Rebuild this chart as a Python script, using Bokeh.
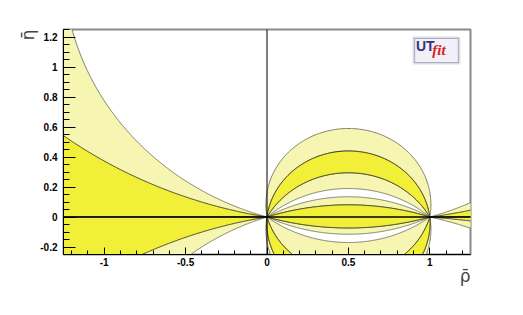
import numpy as np
from bokeh.plotting import figure
from bokeh.models import FixedTicker, Span, Label, BoxAnnotation, Title
from bokeh.embed import file_html
from bokeh.resources import INLINE

# ---- data -----------------------------------------------------------------
# Central region: bands bounded by circle arcs through (0,0) and (1,0);
# each arc is given by its eta value at rho = 0.5 (negative = below the axis)
band_lo = [0.44, 0.295, 0.19, 0.081, -0.073, -0.115, -0.38, -0.54, -0.59]
band_hi = [0.59, 0.44, 0.295, 0.135, 0.081, -0.073, -0.17, -0.38, -0.54]
band_level = ["light", "dark", "light", "light", "dark", "light", "light", "dark", "light"]

# Outer wedges (rho < 0 and rho > 1): region between the eta = 0 axis and the
# circle of constant alpha (degrees) through (0,0) and (1,0)
wedge_side = ["left", "left", "left", "left", "right", "right", "right", "right"]
wedge_alpha = [16.6, 9.9, 170.0, 161.6, 16.6, 8.2, 175.2, 166.8]
wedge_level = ["light", "dark", "dark", "light", "light", "dark", "dark", "light"]

x_ticks = [-1, -0.5, 0, 0.5, 1]
x_labels = ["-1", "-0.5", "0", "0.5", "1"]
y_ticks = [-0.2, 0, 0.2, 0.4, 0.6, 0.8, 1, 1.2]
y_labels = ["-0.2", "0", "0.2", "0.4", "0.6", "0.8", "1", "1.2"]
x_minor = [round(-1.2 + 0.1 * i, 2) for i in range(25)]
y_minor = [round(-0.25 + 0.05 * i, 2) for i in range(31)]

FILL = {"light": "#f6f5b2", "dark": "#f2ef38"}
EDGE = {"light": "#6b6b55", "dark": "#2b2b20"}


def arc(h, n=240):
    """Arc of the circle through (0,0), (1,0) and (0.5, h)."""
    s = 1.0 if h > 0 else -1.0
    h = abs(h)
    c = (h * h - 0.25) / (2 * h)
    r = h - c
    t0 = np.arctan2(-c, 0.5)
    t1 = np.arctan2(-c, -0.5)
    if t1 < t0:
        t1 += 2 * np.pi
    t = np.linspace(t0, t1, n)
    return 0.5 + r * np.cos(t), s * (c + r * np.sin(t))


def wedge(alpha_deg, side, n=300):
    c = 0.5 / np.tan(np.radians(alpha_deg))
    s = 1.0 if c > 0 else -1.0
    c = abs(c)
    r = np.hypot(0.5, c)
    xs = np.linspace(0, max(-1.6, 0.5 - r), n)
    ys = c - np.sqrt(np.maximum(r * r - (xs - 0.5) ** 2, 0))
    x = np.concatenate([xs, [xs[-1], 0]])
    y = np.concatenate([ys, [0, 0]])
    if side == "right":
        x = 1 - x
    return list(x), list(s * y)


p = figure(width=507, height=299, x_range=(-1.25, 1.25), y_range=(-0.25, 1.25),
           output_backend="svg", toolbar_location=None,
           min_border_left=63, min_border_right=37, min_border_top=29, min_border_bottom=45)
p.background_fill_color = "white"
p.border_fill_color = "white"
p.xgrid.visible = False
p.ygrid.visible = False
p.outline_line_color = "#8a8a8a"
p.outline_line_width = 2

for level in ["light", "dark"]:
    xs, ys = [], []
    for lo, hi, lv in zip(band_lo, band_hi, band_level):
        if lv != level:
            continue
        xh, yh = arc(hi)
        xl, yl = arc(lo)
        xs.append(list(xh) + list(xl[::-1]))
        ys.append(list(yh) + list(yl[::-1]))
    for a, sd, lv in zip(wedge_alpha, wedge_side, wedge_level):
        if lv != level:
            continue
        wx, wy = wedge(a, sd)
        xs.append(wx)
        ys.append(wy)
    p.patches(xs, ys, fill_color=FILL[level], line_color=EDGE[level],
              line_width=1, line_alpha=0.85)

p.add_layout(Span(location=0, dimension="height", line_color="black", line_width=1))
p.add_layout(Span(location=0, dimension="width", line_color="black", line_width=1.4))

for ax in (p.xaxis, p.yaxis):
    ax.axis_line_color = "black"
    ax.major_tick_line_color = "black"
    ax.minor_tick_line_color = "black"
    ax.major_tick_out = 0
    ax.minor_tick_out = 0
    ax.major_label_text_font = "Liberation Sans"
    ax.major_label_text_font_style = "bold"
    ax.major_label_text_font_size = "10px"
    ax.major_label_text_color = "black"

p.xaxis.ticker = FixedTicker(ticks=x_ticks, minor_ticks=x_minor)
p.xaxis.major_label_overrides = {t: l for t, l in zip(x_ticks, x_labels)}
p.xaxis.major_tick_in = 7
p.xaxis.minor_tick_in = 4
p.xaxis.major_label_standoff = 3

p.yaxis.ticker = FixedTicker(ticks=y_ticks, minor_ticks=y_minor)
p.yaxis.major_label_overrides = {t: l for t, l in zip(y_ticks, y_labels)}
p.yaxis.major_tick_in = 12
p.yaxis.minor_tick_in = 6
p.yaxis.major_label_standoff = 6

# axis titles (ROOT style: at the far end of each axis)
p.add_layout(Title(text="\u03c1\u0304", align="right", text_font="DejaVu Sans",
                   text_font_size="17px", text_font_style="normal", standoff=-9), "below")
p.add_layout(Title(text="\u03b7\u0304", align="right", text_font="DejaVu Sans",
                   text_font_size="17px", text_font_style="normal", standoff=0), "left")

# UTfit logo
p.add_layout(BoxAnnotation(left=0.90, right=1.182, bottom=1.023, top=1.197,
                           fill_color="#f1eff8", fill_alpha=1, line_color="#9a9a9a",
                           line_width=2, level="underlay"))
p.add_layout(BoxAnnotation(left=0.907, right=1.175, bottom=1.03, top=1.19,
                           fill_alpha=0, line_color="#2a2a7a", line_width=1, level="underlay"))
p.add_layout(Label(x=0.915, y=1.085, text="UT", text_font="Liberation Sans",
                   text_font_style="bold", text_font_size="14px", text_color="#34347e"))
p.add_layout(Label(x=1.015, y=1.06, text="fit", text_font="Liberation Serif",
                   text_font_style="bold italic", text_font_size="15px", text_color="#dd2020"))

open("out.html", "w").write(file_html(p, INLINE))
